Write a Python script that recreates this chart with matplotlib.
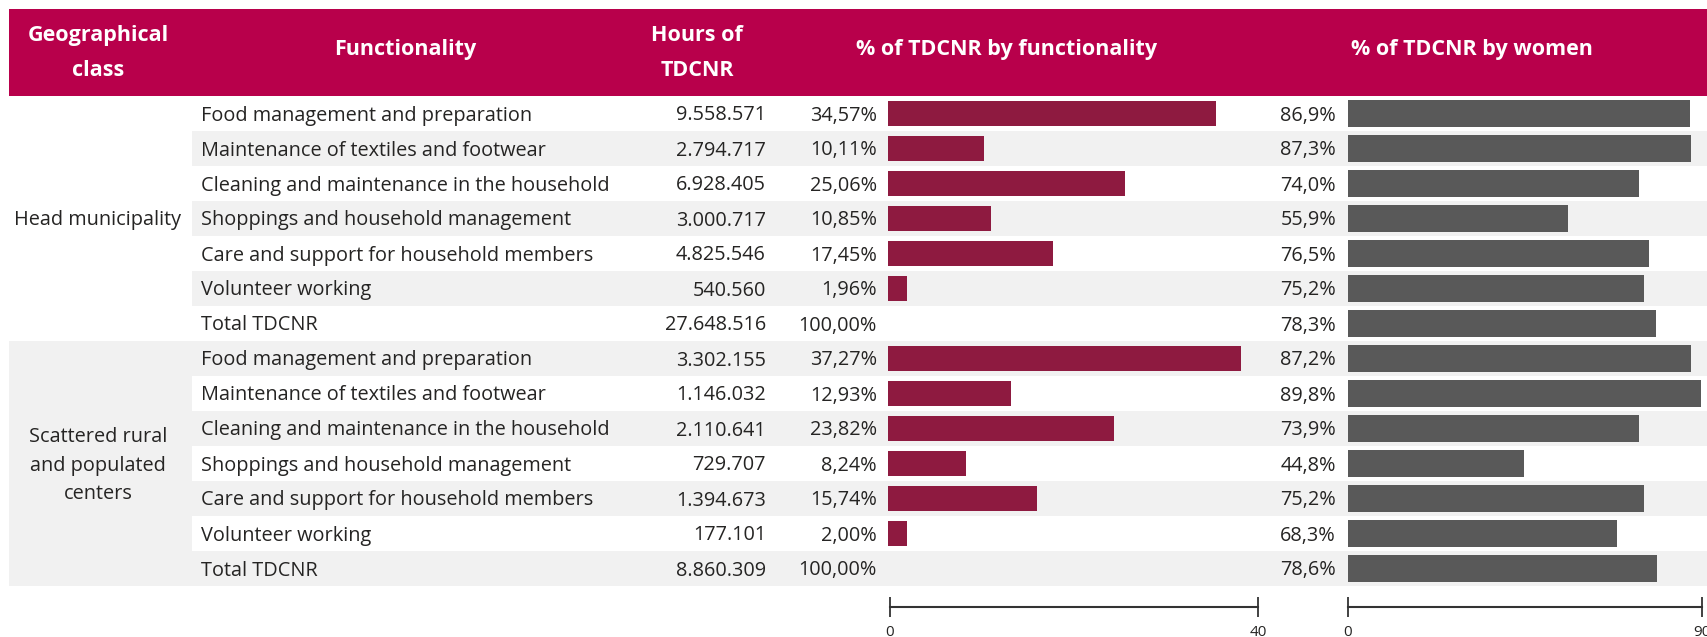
import matplotlib.pyplot as plt
from matplotlib.patches import Rectangle

plt.rcParams['font.family'] = ['Open Sans', 'DejaVu Sans']

# data
geo_classes = ['Head municipality', 'Scattered rural\nand populated\ncenters']
functionality = ['Food management and preparation',
                 'Maintenance of textiles and footwear',
                 'Cleaning and maintenance in the household',
                 'Shoppings and household management',
                 'Care and support for household members',
                 'Volunteer working',
                 'Total TDCNR']
hours_head = [9558571, 2794717, 6928405, 3000717, 4825546, 540560, 27648516]
hours_scat = [3302155, 1146032, 2110641, 729707, 1394673, 177101, 8860309]
pct_func_head = [34.57, 10.11, 25.06, 10.85, 17.45, 1.96, 100.00]
pct_func_scat = [37.27, 12.93, 23.82, 8.24, 15.74, 2.00, 100.00]
pct_women_head = [86.9, 87.3, 74.0, 55.9, 76.5, 75.2, 78.3]
pct_women_scat = [87.2, 89.8, 73.9, 44.8, 75.2, 68.3, 78.6]

W, H = 1707, 637
RED = '#B8004B'
BAR1 = '#8E1A40'
BAR2 = '#595959'
GRAY = '#F1F1F1'
TXT = '#252423'
FS = 14.3

rows_func = functionality + functionality
rows_hours = hours_head + hours_scat
rows_pf = pct_func_head + pct_func_scat
rows_pw = pct_women_head + pct_women_scat
n = len(rows_func)

top, rh = 96, 35


def fmt_int(v):
    return f'{v:,}'.replace(',', '.')


def fmt_pct(v, d):
    return f'{v:.{d}f}%'.replace('.', ',')


fig = plt.figure(figsize=(W / 100, H / 100), dpi=100)
ax = fig.add_axes([0, 0, 1, 1])
ax.set_xlim(0, W)
ax.set_ylim(H, 0)
ax.axis('off')

# header band
ax.add_patch(Rectangle((9, 9), W - 9, top - 9, color=RED, lw=0))
hdr = dict(color='white', fontsize=15.5, fontweight='bold', ha='center', va='center',
           linespacing=1.9)
ax.text(98, 53, 'Geographical\nclass', **hdr)
ax.text(405, 50, 'Functionality', **hdr)
ax.text(697, 53, 'Hours of\nTDCNR', **hdr)
ax.text(1007, 50, '% of TDCNR by functionality', **hdr)
ax.text(1472, 50, '% of TDCNR by women', **hdr)

# row shading
for i in range(n):
    y0 = top + i * rh
    if i % 2 == 1:
        ax.add_patch(Rectangle((192, y0), W - 192, rh, color=GRAY, lw=0))
ax.add_patch(Rectangle((9, top + 7 * rh), 183, 7 * rh, color=GRAY, lw=0))

# geo labels
for g, lab in enumerate(geo_classes):
    yc = top + (g * 7 + 3.5) * rh + 2
    ax.text(98, yc, lab, color=TXT, fontsize=FS, ha='center', va='center',
            linespacing=1.55)

# table text
for i in range(n):
    yc = top + (i + 0.5) * rh + 2
    ax.text(201, yc, rows_func[i], color=TXT, fontsize=FS, va='center')
    ax.text(766, yc, fmt_int(rows_hours[i]), color=TXT, fontsize=FS, va='center', ha='right')
    ax.text(877, yc, fmt_pct(rows_pf[i], 2), color=TXT, fontsize=FS, va='center', ha='right')
    ax.text(1336, yc, fmt_pct(rows_pw[i], 1), color=TXT, fontsize=FS, va='center', ha='right')

# bars
ybot = 1 - (top + n * rh) / H
hgt = n * rh / H
pos = [i + 0.5 for i in range(n)]

bx1 = fig.add_axes([888 / W, ybot, (1267 - 888) / W, hgt])
bar_pos = [p for p, f in zip(pos, rows_func) if f != 'Total TDCNR']
bar_val = [v for v, f in zip(rows_pf, rows_func) if f != 'Total TDCNR']
bx1.barh(bar_pos, bar_val, height=0.72, color=BAR1)
bx1.set_xlim(0, 40)
bx1.set_ylim(n, 0)
bx1.axis('off')

bx2 = fig.add_axes([1348 / W, ybot, (1702 - 1348) / W, hgt])
bx2.barh(pos, rows_pw, height=0.76, color=BAR2)
bx2.set_xlim(0, 90)
bx2.set_ylim(n, 0)
bx2.axis('off')

# scale axes
for x0, x1, vmax in [(890, 1258, 40), (1348, 1702, 90)]:
    sa = fig.add_axes([x0 / W, 1 - 607 / H, (x1 - x0) / W, 0.0001])
    sa.set_xlim(0, vmax)
    for s in ['left', 'right', 'top']:
        sa.spines[s].set_visible(False)
    sa.spines['bottom'].set_color('#333333')
    sa.spines['bottom'].set_linewidth(1.5)
    sa.set_yticks([])
    sa.set_xticks([0, vmax])
    sa.tick_params(axis='x', direction='inout', length=14, width=1.3,
                   color='#333333', labelsize=11, labelcolor=TXT, pad=6)
    sa.patch.set_visible(False)

fig.savefig('out.png', dpi=100)
